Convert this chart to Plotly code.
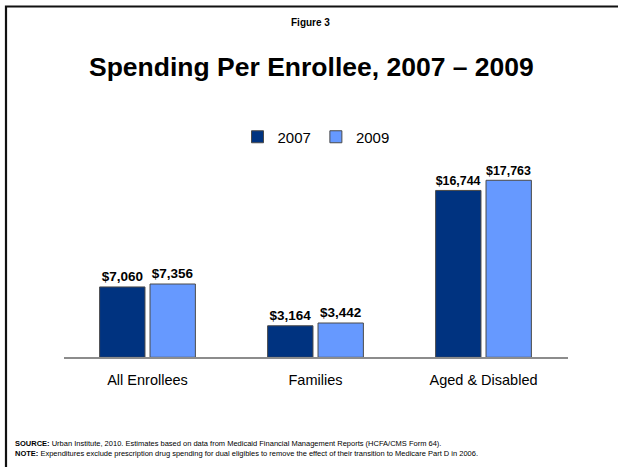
import plotly.graph_objects as go

# Spending per enrollee by group
categories = ["All Enrollees", "Families", "Aged & Disabled"]
spend_2007 = [7060, 3164, 16744]
spend_2009 = [7356, 3442, 17763]
series_names = ["2007", "2009"]
series_colors = ["#003380", "#6699FF"]

W, H = 618, 467
FONT = "Liberation Sans, Arial, sans-serif"

# plot area in pixels
x0_px, x1_px = 63.5, 567.5
ybot_px, ytop_px = 357.3, 158.0


def px(x):
    return x / W


def py(y):
    return 1 - y / H


fig = go.Figure()
for name, vals, color in zip(series_names, [spend_2007, spend_2009], series_colors):
    fig.add_trace(go.Bar(
        x=categories,
        y=vals,
        name=name,
        marker=dict(color=color, line=dict(color="#4a4a4a", width=1)),
        texttemplate="<b>$%{y:,}</b>",
        textposition="outside",
        textfont=dict(family=FONT, size=13.5, color="#000000"),
        cliponaxis=False,
    ))

fig.update_layout(
    width=W,
    height=H,
    autosize=False,
    margin=dict(l=0, r=0, t=0, b=0),
    paper_bgcolor="white",
    plot_bgcolor="white",
    barmode="group",
    bargap=0.4,
    bargroupgap=0.1,
    font=dict(family=FONT, color="#000000"),
    showlegend=True,
    legend=dict(
        orientation="h",
        x=px(316),
        xanchor="center",
        y=py(137),
        yanchor="middle",
        font=dict(family=FONT, size=15, color="#000000"),
        itemwidth=30,
        tracegroupgap=0,
        traceorder="normal",
        bgcolor="rgba(0,0,0,0)",
    ),
    xaxis=dict(
        domain=[px(x0_px), px(x1_px)],
        showgrid=False,
        zeroline=False,
        showline=True,
        linecolor="#8c8c8c",
        linewidth=1.5,
        ticks="",
        ticklabelstandoff=9,
        tickfont=dict(family=FONT, size=14.5, color="#000000"),
    ),
    yaxis=dict(
        domain=[py(ybot_px), py(ytop_px)],
        range=[0, 20000],
        visible=False,
        showgrid=False,
        zeroline=False,
    ),
    shapes=[
        # slide frame (top and left edges visible)
        dict(type="rect", xref="paper", yref="paper",
             x0=px(6), x1=px(W + 20), y0=py(H + 20), y1=py(6.5),
             line=dict(color="#111111", width=2.2), fillcolor="rgba(0,0,0,0)",
             layer="above"),
    ],
    annotations=[
        dict(text="<b>Figure 3</b>", xref="paper", yref="paper",
             x=px(310), y=py(22), xanchor="center", yanchor="middle",
             showarrow=False, font=dict(family=FONT, size=10, color="#000000")),
        dict(text="<b>Spending Per Enrollee, 2007 – 2009</b>", xref="paper", yref="paper",
             x=px(311), y=py(67), xanchor="center", yanchor="middle",
             showarrow=False, font=dict(family=FONT, size=26.5, color="#000000")),
        dict(text="<b>SOURCE:</b> Urban Institute, 2010. Estimates based on data from Medicaid Financial Management Reports (HCFA/CMS Form 64).",
             xref="paper", yref="paper", x=px(13), y=py(443), xanchor="left", yanchor="middle",
             showarrow=False, font=dict(family=FONT, size=7.5, color="#000000")),
        dict(text="<b>NOTE:</b> Expenditures exclude prescription drug spending for dual eligibles to remove the effect of their transition to Medicare Part D in 2006.",
             xref="paper", yref="paper", x=px(13), y=py(453), xanchor="left", yanchor="middle",
             showarrow=False, font=dict(family=FONT, size=7.5, color="#000000")),
    ],
)

fig.write_html("out.html")
